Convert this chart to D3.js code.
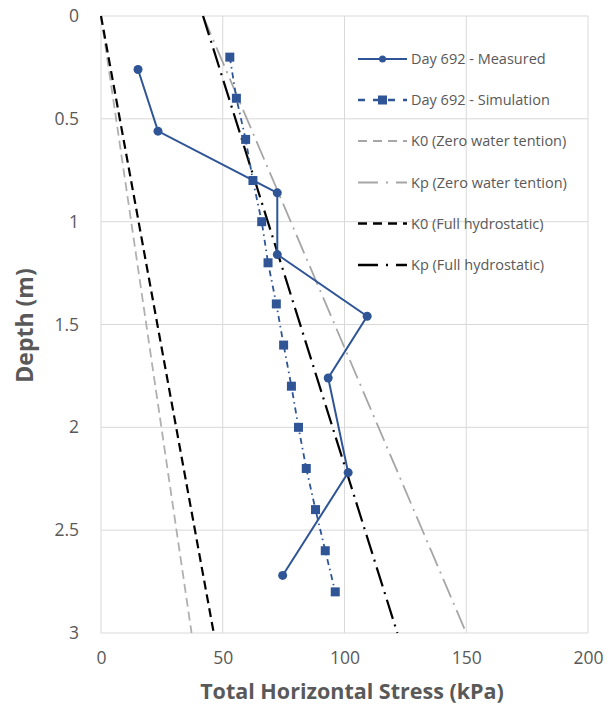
<!DOCTYPE html>
<html>
<head>
<meta charset="utf-8">
<script src="https://cdn.jsdelivr.net/npm/d3@7"></script>
<style>
  html, body { margin: 0; padding: 0; background: #fff; }
  svg { display: block; font-family: "Open Sans", sans-serif; }
</style>
</head>
<body>
<svg id="chart" width="608" height="704"></svg>
<script>
// Measured stress profile, day 692
const measuredDepth  = [0.26, 0.56, 0.86, 1.16, 1.46, 1.76, 2.22, 2.72];
const measuredStress = [15.2, 23.4, 72.4, 72.4, 109.3, 93.3, 101.5, 74.6];

// Simulated stress profile, day 692
const simDepth  = [0.2, 0.4, 0.6, 0.8, 1.0, 1.2, 1.4, 1.6, 1.8, 2.0, 2.2, 2.4, 2.6, 2.8];
const simStress = [52.9, 55.6, 59.4, 62.4, 66.0, 68.6, 72.0, 75.0, 78.2, 81.1, 84.3, 88.1, 92.1, 96.2];

// Reference earth-pressure lines (stress at depth 0 and depth 3 m)
const refDepth = [0, 3];
const k0ZeroStress = [0, 37.2];
const kpZeroStress = [41.9, 150];
const k0FullStress = [0, 46.3];
const kpFullStress = [41.9, 121.7];

const xTicks = [0, 50, 100, 150, 200];
const yTicks = [0, 0.5, 1, 1.5, 2, 2.5, 3];

const legendLabels = [
  "Day 692 - Measured",
  "Day 692 - Simulation",
  "K0 (Zero water tention)",
  "Kp (Zero water tention)",
  "K0 (Full hydrostatic)",
  "Kp (Full hydrostatic)"
];

const blue = "#2f5597";
const grey = "#a6a6a6";
const black = "#000000";
const textColor = "#595959";

const svg = d3.select("#chart");
const x = d3.scaleLinear().domain([0, 200]).range([101, 588]);
const y = d3.scaleLinear().domain([0, 3]).range([16, 633]);

// Gridlines
const grid = svg.append("g");
grid.selectAll("line.v").data(xTicks).join("line")
  .attr("x1", d => x(d)).attr("x2", d => x(d))
  .attr("y1", y(0)).attr("y2", y(3))
  .attr("stroke", "#d9d9d9").attr("stroke-width", 1);
grid.selectAll("line.h").data(yTicks).join("line")
  .attr("x1", x(0)).attr("x2", x(200))
  .attr("y1", d => y(d)).attr("y2", d => y(d))
  .attr("stroke", "#d9d9d9").attr("stroke-width", 1);

// Axes (labels only)
const xAxis = svg.append("g")
  .attr("transform", `translate(0,${y(3)})`)
  .call(d3.axisBottom(x).tickValues(xTicks).tickSize(0).tickPadding(19).tickFormat(d3.format("d")));
const yAxis = svg.append("g")
  .attr("transform", `translate(${x(0)},0)`)
  .call(d3.axisLeft(y).tickValues(yTicks).tickSize(0).tickPadding(22).tickFormat(d => String(d)));
[xAxis, yAxis].forEach(a => {
  a.select(".domain").remove();
  a.selectAll("text").attr("fill", textColor).style("font-size", "17.5px").style("font-family", "'Open Sans', sans-serif");
});

// Axis titles
svg.append("text")
  .attr("x", 352).attr("y", 699)
  .attr("text-anchor", "middle")
  .attr("fill", textColor)
  .style("font-size", "21.5px").style("font-weight", "bold")
  .text("Total Horizontal Stress (kPa)");
svg.append("text")
  .attr("transform", `translate(33,${y(1.5) + 1}) rotate(-90)`)
  .attr("text-anchor", "middle")
  .attr("fill", textColor)
  .style("font-size", "23px").style("font-weight", "bold")
  .text("Depth (m)");

const line = d3.line().x(d => x(d[0])).y(d => y(d[1]));

// Reference lines
const refLines = [
  { stress: k0ZeroStress, color: "#b0b0b0", width: 1.8, dash: "9,5" },
  { stress: kpZeroStress, color: grey,      width: 1.8, dash: "20,6,2,6" },
  { stress: k0FullStress, color: black,     width: 2.2, dash: "9,5" },
  { stress: kpFullStress, color: black,     width: 2.2, dash: "20,6,2,6" }
];
refLines.forEach(r => {
  svg.append("path")
    .datum(d3.zip(r.stress, refDepth))
    .attr("d", line)
    .attr("fill", "none")
    .attr("stroke", r.color)
    .attr("stroke-width", r.width)
    .attr("stroke-dasharray", r.dash);
});

// Simulation series
const simData = d3.zip(simStress, simDepth);
svg.append("path").datum(simData).attr("d", line)
  .attr("fill", "none").attr("stroke", blue).attr("stroke-width", 1.8)
  .attr("stroke-dasharray", "6,4,1.5,4");
svg.selectAll("rect.sim").data(simData).join("rect")
  .attr("x", d => x(d[0]) - 4.5).attr("y", d => y(d[1]) - 4.5)
  .attr("width", 9).attr("height", 9)
  .attr("fill", blue);

// Measured series
const measData = d3.zip(measuredStress, measuredDepth);
svg.append("path").datum(measData).attr("d", line)
  .attr("fill", "none").attr("stroke", blue).attr("stroke-width", 2);
svg.selectAll("circle.meas").data(measData).join("circle")
  .attr("cx", d => x(d[0])).attr("cy", d => y(d[1]))
  .attr("r", 4.5).attr("fill", blue);

// Legend
const legendY = [59, 100, 141, 182.5, 223.5, 265];
const legendStyles = [
  { color: blue,  width: 2,   dash: null,        marker: "circle" },
  { color: blue,  width: 2.5, dash: "7,8,7,8",   marker: "square" },
  { color: grey,  width: 2,   dash: "9,6",       marker: null },
  { color: grey,  width: 2,   dash: "20,8,2,8",  marker: null },
  { color: black, width: 2.5, dash: "9,6",       marker: null },
  { color: black, width: 2.5, dash: "20,8,2,8",  marker: null }
];
const legend = svg.append("g");
legendLabels.forEach((label, i) => {
  const st = legendStyles[i];
  const ly = legendY[i];
  const ln = legend.append("line")
    .attr("x1", 358).attr("x2", 407).attr("y1", ly).attr("y2", ly)
    .attr("stroke", st.color).attr("stroke-width", st.width);
  if (st.dash) ln.attr("stroke-dasharray", st.dash);
  if (st.marker === "circle") {
    legend.append("circle").attr("cx", 382.5).attr("cy", ly).attr("r", 3.5).attr("fill", st.color);
  } else if (st.marker === "square") {
    legend.append("rect").attr("x", 378).attr("y", ly - 4.5).attr("width", 9).attr("height", 9).attr("fill", st.color);
  }
  legend.append("text")
    .attr("x", 411).attr("y", ly).attr("dy", "0.35em")
    .attr("fill", textColor)
    .style("font-size", "14.5px")
    .text(label);
});
</script>
</body>
</html>
